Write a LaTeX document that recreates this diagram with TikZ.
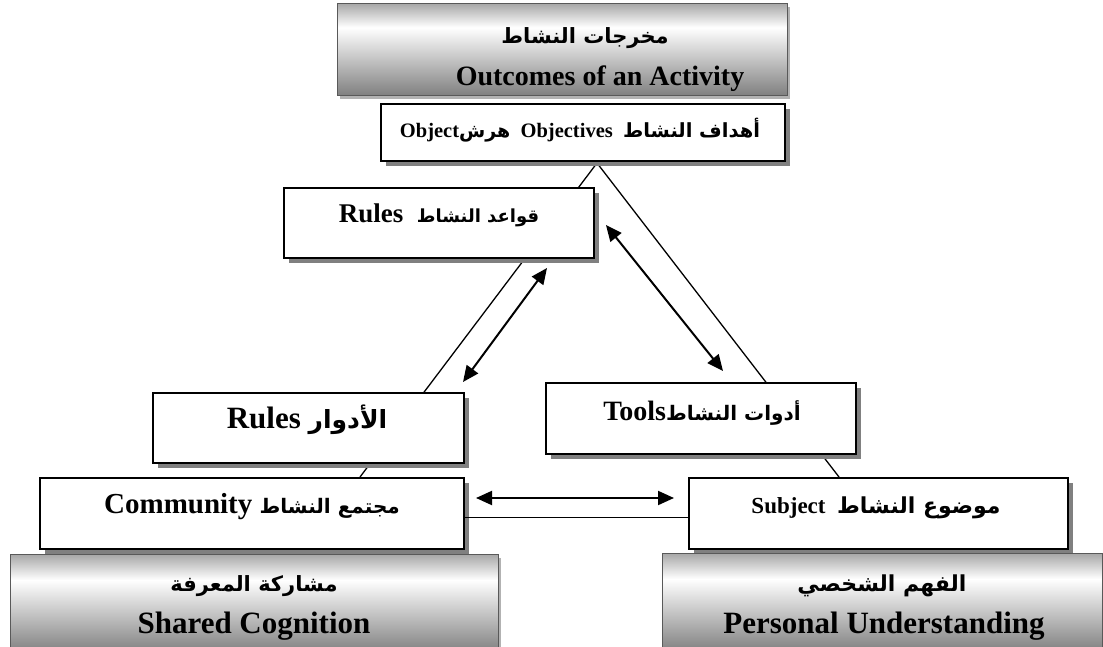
\documentclass[tikz,border=0pt]{standalone}
\usepackage{fontspec}
\setmainfont{Liberation Serif}
\newfontfamily\arabicfont[Script=Arabic]{DejaVu Sans}
\TeXXeTstate=1
\usetikzlibrary{arrows.meta,shadows}
\pgfdeclareverticalshading{boxgray}{100bp}{color(0bp)=(black!50); color(25bp)=(black!50); color(62bp)=(white); color(75bp)=(black!34); color(100bp)=(black!34)}
\newcommand{\ar}[1]{{\arabicfont\bfseries\beginR #1\endR}}
\newcommand{\fs}[1]{\fontsize{#1}{#1}\selectfont}
\begin{document}
\begin{tikzpicture}[x=1pt,y=-1pt,
  wbox/.style={draw=black, line width=2pt, fill=white, rectangle, inner sep=0pt,
    anchor=north west, drop shadow={shadow xshift=5pt, shadow yshift=-5pt, opacity=1, fill=black!50}},
  gbox/.style={draw=black!65, line width=1.2pt, shading=boxgray, rectangle, inner sep=0pt,
    anchor=north west, drop shadow={shadow xshift=2pt, shadow yshift=-3pt, opacity=1, fill=black!30}},
  txt/.style={anchor=base, inner sep=0pt, font=\bfseries},
  edge/.style={draw=black, line width=1.3pt},
  dbl/.style={draw=black, line width=2pt, {Triangle[length=16pt,width=14pt]}-{Triangle[length=16pt,width=14pt]}}
]
\useasboundingbox (0,0) rectangle (1103,647);
\begin{scope}
\clip (0,0) rectangle (1103,647);
% triangle edges (behind boxes)
\coordinate (apex) at (597,163);
\coordinate (cL) at (360,477);
\coordinate (cR) at (839,477);
\draw[edge] (apex) -- (cL);
\draw[edge] (apex) -- (cR);

% boxes
\node[gbox, minimum width=450pt, minimum height=92pt] (outcomes) at (337,3) {};
\node[wbox, minimum width=404pt, minimum height=57pt] (objectives) at (380,103) {};
\node[wbox, minimum width=310pt, minimum height=70pt] (rulesTop) at (283,187) {};
\node[wbox, minimum width=310pt, minimum height=71pt] (tools) at (545,382) {};
\node[wbox, minimum width=311pt, minimum height=70pt] (roles) at (152,392) {};
\node[wbox, minimum width=424pt, minimum height=71pt] (community) at (39,477) {};
\node[wbox, minimum width=379pt, minimum height=71pt] (subject) at (688,477) {};
\node[gbox, minimum width=488pt, minimum height=98pt] (shared) at (10,554) {};
\node[gbox, minimum width=440pt, minimum height=98pt] (personal) at (662,553) {};

% bottom connecting line
\draw[edge] ([yshift=-4pt]community.east) -- ([yshift=-4pt]subject.west);

% double arrows
\coordinate (a1s) at (476,498);
\coordinate (a1e) at (674,498);
\coordinate (a2s) at (463,382);
\coordinate (a2e) at (547,268);
\coordinate (a3s) at (606,225);
\coordinate (a3e) at (723,371);
\draw[dbl] (a1s) -- (a1e);
\draw[dbl] (a2s) -- (a2e);
\draw[dbl] (a3s) -- (a3e);

% texts
\begin{scope}
\clip (outcomes.south west) rectangle (outcomes.north east);
\node[txt] (tOutAr) at (585,44) {\fs{21}\ar{مخرجات النشاط}};
\node[txt] (tOutEn) at (600,86) {\fs{28}Outcomes of an Activity};
\end{scope}
\node[txt] (tObj) at (580,138) {\fs{20.5}Object\ar{\fs{19}هرش}\ \ Objectives\ \ \ar{\fs{19.5}أهداف النشاط}};
\node[txt] (tRulesTop) at (439,223) {\fs{27}Rules\ \ \ar{\fs{18}قواعد النشاط}};
\node[txt] (tRoles) at (307,428) {\fs{31}Rules \ar{\fs{25}الأدوار}};
\node[txt] (tComm) at (252,513) {\fs{29}Community \ar{\fs{20}مجتمع النشاط}};
\node[txt] (tTools) at (702,420) {\fs{28}Tools\ar{\fs{20}أدوات النشاط}};
\node[txt] (tSubj) at (876,513) {\fs{23}Subject\ \ \ar{\fs{22}موضوع النشاط}};
\begin{scope}
\clip (shared.south west) rectangle (shared.north east);
\node[txt] (tShAr) at (254,591) {\fs{21}\ar{مشاركة المعرفة}};
\node[txt] (tShEn) at (254,633) {\fs{31}Shared Cognition};
\end{scope}
\begin{scope}
\clip (personal.south west) rectangle (personal.north east);
\node[txt] (tPeAr) at (882,591) {\fs{22}\ar{الفهم الشخصي}};
\node[txt] (tPeEn) at (884,633) {\fs{31}Personal Understanding};
\end{scope}
\end{scope}
\end{tikzpicture}
\end{document}
